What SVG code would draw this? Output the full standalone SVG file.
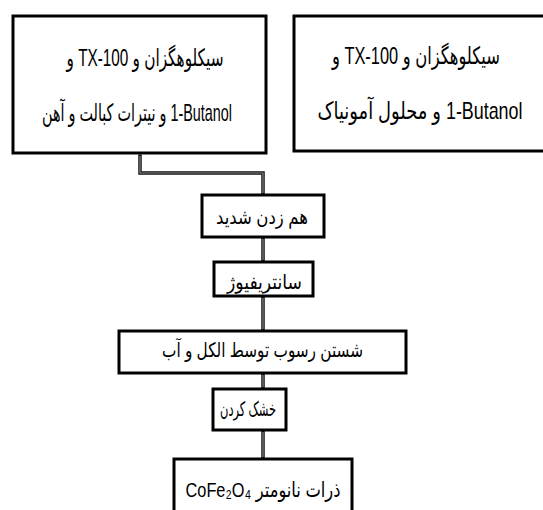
<svg xmlns="http://www.w3.org/2000/svg" width="543" height="510" viewBox="0 0 543 510">
<style>
.box{fill:#fff;stroke:#000;stroke-width:3}
.t{font-family:"Liberation Sans","DejaVu Sans",sans-serif;fill:#000}
.big{font-size:20px}
.sm{font-size:20px}
.c1{fill:none;stroke:#111;stroke-width:3.5}
.c2{fill:none;stroke:#8a8a8a;stroke-width:1.2}
</style>
<rect width="543" height="510" fill="#fff"/>
<g id="connectors">
<path class="c1" d="M140 154.5V173H263V195M263 237V262M263 296V331M263 373V389M263 430V459"/>
<path class="c2" d="M140 156V173H263V193M263 239V260M263 298V329M263 375V387M263 432V457"/>
</g>
<g id="n1">
<rect class="box" x="13" y="16" width="253" height="137"/>
<g transform="scale(1,1.2)">
<text class="t big" x="145" y="55" text-anchor="middle" direction="rtl" textLength="157" lengthAdjust="spacingAndGlyphs">سیکلوهگزان و TX-100 و</text>
<text class="t big" x="137" y="100.8" text-anchor="middle" direction="rtl" textLength="190" lengthAdjust="spacingAndGlyphs">&#x200E;1-Butanol و نیترات کبالت و آهن</text>
</g>
</g>
<g id="n2">
<rect class="box" x="294" y="16" width="251" height="135"/>
<g transform="scale(1,1.2)">
<text class="t big" x="416" y="53.3" text-anchor="middle" direction="rtl" textLength="168" lengthAdjust="spacingAndGlyphs">سیکلوهگزان و TX-100 و</text>
<text class="t big" x="420" y="99.2" text-anchor="middle" direction="rtl" textLength="205" lengthAdjust="spacingAndGlyphs">&#x200E;1-Butanol و محلول آمونیاک</text>
</g>
</g>
<g id="n3">
<rect class="box" x="202" y="195" width="122" height="42"/>
<text class="t sm" x="262" y="224" text-anchor="middle" textLength="92" lengthAdjust="spacingAndGlyphs">هم زدن شدید</text>
</g>
<g id="n4">
<rect class="box" x="214" y="262" width="99" height="34"/>
<text class="t sm" x="264.5" y="289" text-anchor="middle" textLength="75" lengthAdjust="spacingAndGlyphs">سانتریفیوژ</text>
</g>
<g id="n5">
<rect class="box" x="119" y="331" width="287" height="42"/>
<text class="t sm" x="262.5" y="357" text-anchor="middle" textLength="201" lengthAdjust="spacingAndGlyphs">شستن رسوب توسط الکل و آب</text>
</g>
<g id="n6">
<rect class="box" x="213" y="389" width="73" height="41"/>
<text class="t sm" x="248" y="416" text-anchor="middle" textLength="56" lengthAdjust="spacingAndGlyphs">خشک کردن</text>
</g>
<g id="n7">
<rect class="box" x="174" y="459" width="178" height="60"/>
<text class="t" x="263" y="497" font-size="21" text-anchor="middle" direction="rtl" textLength="155" lengthAdjust="spacingAndGlyphs">ذرات نانومتر CoFe₂O₄</text>
</g>
</svg>
